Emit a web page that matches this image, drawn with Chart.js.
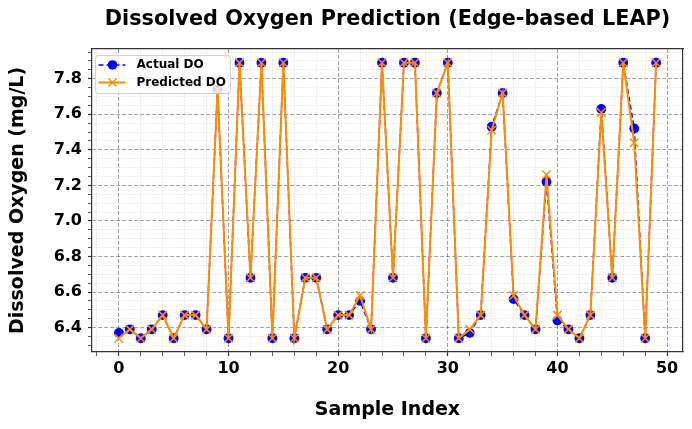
<!DOCTYPE html>
<html>
<head>
<meta charset="utf-8">
<script src="https://cdn.jsdelivr.net/npm/chart.js@4.4.1/dist/chart.umd.min.js"></script>
<style>
  html, body { margin: 0; padding: 0; background: #fff; }
  #wrap { width: 692px; height: 429px; }
</style>
</head>
<body>
<div id="wrap"><canvas id="chart" width="692" height="429"></canvas></div>
<script>
const sampleIndex = [0, 1, 2, 3, 4, 5, 6, 7, 8, 9,
    10, 11, 12, 13, 14, 15, 16, 17, 18, 19,
    20, 21, 22, 23, 24, 25, 26, 27, 28, 29,
    30, 31, 32, 33, 34, 35, 36, 37, 38, 39,
    40, 41, 42, 43, 44, 45, 46, 47, 48, 49];

const actualDO = [6.37, 6.39, 6.34, 6.39, 6.47, 6.34, 6.47, 6.47, 6.39, 7.74,
    6.34, 7.89, 6.68, 7.89, 6.34, 7.89, 6.34, 6.68, 6.68, 6.39,
    6.47, 6.47, 6.55, 6.39, 7.89, 6.68, 7.89, 7.89, 6.34, 7.72,
    7.89, 6.34, 6.37, 6.47, 7.53, 7.72, 6.56, 6.47, 6.39, 7.22,
    6.44, 6.39, 6.34, 6.47, 7.63, 6.68, 7.89, 7.52, 6.34, 7.89];

const predictedDO = [6.34, 6.39, 6.34, 6.39, 6.47, 6.34, 6.47, 6.47, 6.39, 7.74,
    6.34, 7.89, 6.68, 7.89, 6.34, 7.89, 6.34, 6.68, 6.68, 6.39,
    6.47, 6.47, 6.58, 6.39, 7.89, 6.68, 7.89, 7.89, 6.34, 7.72,
    7.89, 6.34, 6.39, 6.47, 7.51, 7.72, 6.58, 6.47, 6.39, 7.26,
    6.47, 6.39, 6.34, 6.47, 7.61, 6.68, 7.89, 7.44, 6.34, 7.89];

const seriesNames = ['Actual DO', 'Predicted DO'];

const COLORS = {
    blue: '#0000ff',
    orange: '#ff8c00',
    spine: '#333333',
    major: 'rgba(0, 0, 0, 0.45)',
    minor: 'rgba(0, 0, 0, 0.16)'
};
const FONT = 'DejaVu Sans';

function isMultiple(v, step) {
    const r = v / step;
    return Math.abs(r - Math.round(r)) < 1e-6;
}

// matplotlib-like legend box inside the axes, top left
const boxLegend = {
    id: 'boxLegend',
    afterDraw(chart) {
        const ctx = chart.ctx;
        const area = chart.chartArea;
        const x = area.left + 3.5, y = area.top + 6.5, w = 135, h = 38;
        ctx.save();
        ctx.beginPath();
        ctx.roundRect(x, y, w, h, 3);
        ctx.fillStyle = 'rgba(255, 255, 255, 0.8)';
        ctx.fill();
        ctx.strokeStyle = 'rgba(204, 204, 204, 0.9)';
        ctx.lineWidth = 1;
        ctx.stroke();

        const rows = [y + 9.5, y + 27];
        const hx0 = x + 3, hx1 = x + 30, mx = x + 17;

        // Actual DO: dashed blue with circle
        ctx.strokeStyle = COLORS.blue;
        ctx.lineWidth = 1.5;
        ctx.setLineDash([5, 3]);
        ctx.beginPath();
        ctx.moveTo(hx0, rows[0]);
        ctx.lineTo(hx1, rows[0]);
        ctx.stroke();
        ctx.setLineDash([]);
        ctx.fillStyle = COLORS.blue;
        ctx.beginPath();
        ctx.arc(mx, rows[0], 4.8, 0, Math.PI * 2);
        ctx.fill();

        // Predicted DO: solid orange with x
        ctx.strokeStyle = COLORS.orange;
        ctx.lineWidth = 2;
        ctx.beginPath();
        ctx.moveTo(hx0, rows[1]);
        ctx.lineTo(hx1, rows[1]);
        ctx.stroke();
        ctx.lineWidth = 1.5;
        ctx.beginPath();
        ctx.moveTo(mx - 4, rows[1] - 4);
        ctx.lineTo(mx + 4, rows[1] + 4);
        ctx.moveTo(mx - 4, rows[1] + 4);
        ctx.lineTo(mx + 4, rows[1] - 4);
        ctx.stroke();

        ctx.fillStyle = '#000';
        ctx.font = 'bold 12px "' + FONT + '"';
        ctx.textBaseline = 'middle';
        ctx.fillText(seriesNames[0], x + 41, rows[0]);
        ctx.fillText(seriesNames[1], x + 41, rows[1]);
        ctx.restore();
    }
};

new Chart(document.getElementById('chart'), {
    type: 'line',
    data: {
        datasets: [
            {
                label: seriesNames[0],
                data: sampleIndex.map((i, k) => ({x: i, y: actualDO[k]})),
                borderColor: COLORS.blue,
                backgroundColor: COLORS.blue,
                borderWidth: 1.5,
                borderDash: [5, 3],
                pointStyle: 'circle',
                pointRadius: 4.9,
                pointBorderWidth: 0,
                order: 1
            },
            {
                label: seriesNames[1],
                data: sampleIndex.map((i, k) => ({x: i, y: predictedDO[k]})),
                borderColor: COLORS.orange,
                backgroundColor: COLORS.orange,
                borderWidth: 2,
                pointStyle: 'crossRot',
                pointRadius: 6,
                pointBorderWidth: 1.5,
                order: 0
            }
        ]
    },
    options: {
        responsive: false,
        animation: false,
        layout: {padding: {left: 0, right: 9, top: 0, bottom: 0}},
        plugins: {
            legend: {display: false},
            tooltip: {enabled: false},
            title: {
                display: true,
                fullSize: false,
                text: 'Dissolved Oxygen Prediction (Edge-based LEAP)',
                color: '#000',
                font: {family: FONT, size: 20.8, weight: 'bold', lineHeight: 1.2},
                padding: {top: 7, bottom: 17}
            }
        },
        scales: {
            x: {
                type: 'linear',
                min: -2.45,
                max: 51.45,
                afterFit: (s) => { s.height = 77; },
                ticks: {
                    stepSize: 2,
                    includeBounds: false,
                    autoSkip: false,
                    maxRotation: 0,
                    padding: 3,
                    color: '#000',
                    font: {family: FONT, size: 16, weight: 'bold'},
                    callback: (v) => isMultiple(v, 10) ? String(v) : ''
                },
                grid: {
                    tickLength: 4,
                    color: (c) => c.tick && isMultiple(c.tick.value, 10) ? COLORS.major : COLORS.minor,
                    lineWidth: (c) => c.tick && isMultiple(c.tick.value, 10) ? 0.8 : 0.6,
                    tickColor: COLORS.spine,
                    tickWidth: (c) => c.tick && isMultiple(c.tick.value, 10) ? 1.2 : 0.8
                },
                border: {
                    color: COLORS.spine,
                    width: 1.2,
                    dash: (c) => c.tick ? (isMultiple(c.tick.value, 10) ? [4, 2] : [1.5, 1.5]) : []
                },
                title: {
                    display: true,
                    text: 'Sample Index',
                    color: '#000',
                    font: {family: FONT, size: 19, weight: 'bold', lineHeight: 1.2},
                    padding: {top: 4, bottom: 7.6}
                }
            },
            y: {
                type: 'linear',
                min: 6.2625,
                max: 7.9675,
                afterFit: (s) => { s.width = 92; },
                ticks: {
                    stepSize: 0.05,
                    includeBounds: false,
                    autoSkip: false,
                    padding: 6,
                    color: '#000',
                    font: {family: FONT, size: 16, weight: 'bold'},
                    callback: (v) => isMultiple(v, 0.2) ? v.toFixed(1) : ''
                },
                grid: {
                    tickLength: 4,
                    color: (c) => c.tick && isMultiple(c.tick.value, 0.2) ? COLORS.major : COLORS.minor,
                    lineWidth: (c) => c.tick && isMultiple(c.tick.value, 0.2) ? 0.8 : 0.6,
                    tickColor: COLORS.spine,
                    tickWidth: (c) => c.tick && isMultiple(c.tick.value, 0.2) ? 1.2 : 0.8
                },
                border: {
                    color: COLORS.spine,
                    width: 1.2,
                    dash: (c) => c.tick ? (isMultiple(c.tick.value, 0.2) ? [4, 2] : [1.5, 1.5]) : []
                },
                title: {
                    display: true,
                    text: 'Dissolved Oxygen (mg/L)',
                    color: '#000',
                    font: {family: FONT, size: 19, weight: 'bold', lineHeight: 1.2},
                    padding: {top: 7, bottom: 4}
                }
            },
            xTop: {
                type: 'linear',
                position: 'top',
                afterFit: (s) => { s.height = 0; },
                ticks: {display: false},
                grid: {display: false, drawTicks: false},
                border: {color: COLORS.spine, width: 1.2}
            },
            yRight: {
                type: 'linear',
                position: 'right',
                afterFit: (s) => { s.width = 0; },
                ticks: {display: false},
                grid: {display: false, drawTicks: false},
                border: {color: COLORS.spine, width: 1.2}
            }
        }
    },
    plugins: [boxLegend]
});
</script>
</body>
</html>
